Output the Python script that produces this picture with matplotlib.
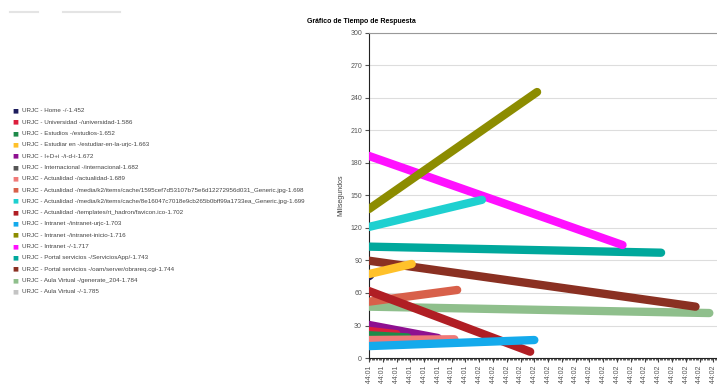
import matplotlib.pyplot as plt
from matplotlib.lines import Line2D

plt.rcParams['font.family'] = ['Liberation Sans', 'DejaVu Sans']

# Series (etiquetas, colores y valores)
etiquetas = [
    'URJC - Home -/-1.452',
    'URJC - Universidad -/universidad-1.586',
    'URJC - Estudios -/estudios-1.652',
    'URJC - Estudiar en -/estudiar-en-la-urjc-1.663',
    'URJC - I+D+i -/i-d-i-1.672',
    'URJC - Internacional -/internacional-1.682',
    'URJC - Actualidad -/actualidad-1.689',
    'URJC - Actualidad -/media/k2/items/cache/1595cef7d53107b75e6d12272956d031_Generic.jpg-1.698',
    'URJC - Actualidad -/media/k2/items/cache/8e16047c7018e9cb265b0bff99a1733ea_Generic.jpg-1.699',
    'URJC - Actualidad -/templates/rt_hadron/favicon.ico-1.702',
    'URJC - Intranet -/intranet-urjc-1.703',
    'URJC - Intranet -/intranet-inicio-1.716',
    'URJC - Intranet -/-1.717',
    'URJC - Portal servicios -/ServiciosApp/-1.743',
    'URJC - Portal servicios -/oam/server/obrareq.cgi-1.744',
    'URJC - Aula Virtual -/generate_204-1.784',
    'URJC - Aula Virtual -/-1.785',
]
colores = ['#1c1c5c', '#dc1e3c', '#1e8a4a', '#ffc12a', '#8e1090', '#555555',
           '#f07a78', '#d8604a', '#1ed0d0', '#b01e24', '#14aaec', '#8c8c00',
           '#ff10ff', '#00a89c', '#8a3022', '#8fbf8c', '#c4c4c4']

# posicion final en el eje x (inicio en 0) y valores inicial / final (ms)
x_fin = [0.1, 2.0, 2.8, 3.1, 5.0, 0.5, 6.2, 6.4, 8.2, 11.7, 12.0, 12.2,
         18.4, 21.2, 23.7, 24.7, 0.5]
y_ini = [75.5, 25, 21, 77.5, 30.5, 20, 16.6, 52, 121, 61.8, 11, 137.5,
         186.5, 102.8, 89.8, 47.4, 20]
y_fin = [76.5, 22, 19, 86.8, 18.5, 20, 17.3, 62.8, 146, 5.8, 16.6, 245.5,
         104.3, 97.2, 47.4, 41.5, 20]

marcas = [f'09:44:0{1 if i < 8 else 2}' for i in range(27)]

fig = plt.figure(figsize=(7.17, 3.84), dpi=100)
ax = fig.add_axes([0.5146, 0.0677, 0.5035, 0.8464])

orden = [16, 5, 0, 15, 14, 13, 12, 11, 8, 3, 7, 9, 4, 1, 2, 6, 10]
for i in orden:
    ax.plot([0, x_fin[i]], [y_ini[i], y_fin[i]], color=colores[i], lw=6,
            solid_capstyle='round', zorder=3)

ax.set_ylim(0, 300)
ax.set_xlim(0, 26.2)
ax.set_yticks(range(0, 301, 30))
ax.set_xticks(range(len(marcas)))
ax.set_xticks([i / 10 for i in range(262)], minor=True)
ax.set_xticklabels(marcas, rotation=90, fontsize=5, color='#555555')
ax.tick_params(axis='y', labelsize=5, colors='#555555', length=3, pad=2)
ax.tick_params(axis='x', which='major', length=3, pad=2, color='#444444')
ax.tick_params(axis='x', which='minor', length=1.5, color='#444444')
ax.grid(axis='y', color='#dddddd', lw=0.8, zorder=0)
ax.spines['right'].set_visible(False)
ax.spines['top'].set_color('#999999')
ax.spines['left'].set_color('#222222')
ax.spines['bottom'].set_color('#222222')
ax.set_ylabel('Milisegundos', fontsize=5, color='#444444', labelpad=4)

fig.text(0.504, 0.945, 'Gráfico de Tiempo de Respuesta', fontsize=5,
         fontweight='bold', ha='center', va='center')

# lineas grises arriba a la izquierda
fig.add_artist(Line2D([10 / 717, 38 / 717], [0.97, 0.97], color='#e4e4e4', lw=1.5))
fig.add_artist(Line2D([63 / 717, 120 / 717], [0.97, 0.97], color='#e4e4e4', lw=1.5))

# leyenda
for i, (et, c) in enumerate(zip(etiquetas, colores)):
    y = 1 - (111 + i * 11.3) / 384
    fig.text(12 / 717, y, '■', color=c, fontsize=4.5, va='center',
             family='DejaVu Sans')
    fig.text(22 / 717, y, et, color='#444444', fontsize=4.5, va='center')

fig.savefig('out.png', dpi=100)
